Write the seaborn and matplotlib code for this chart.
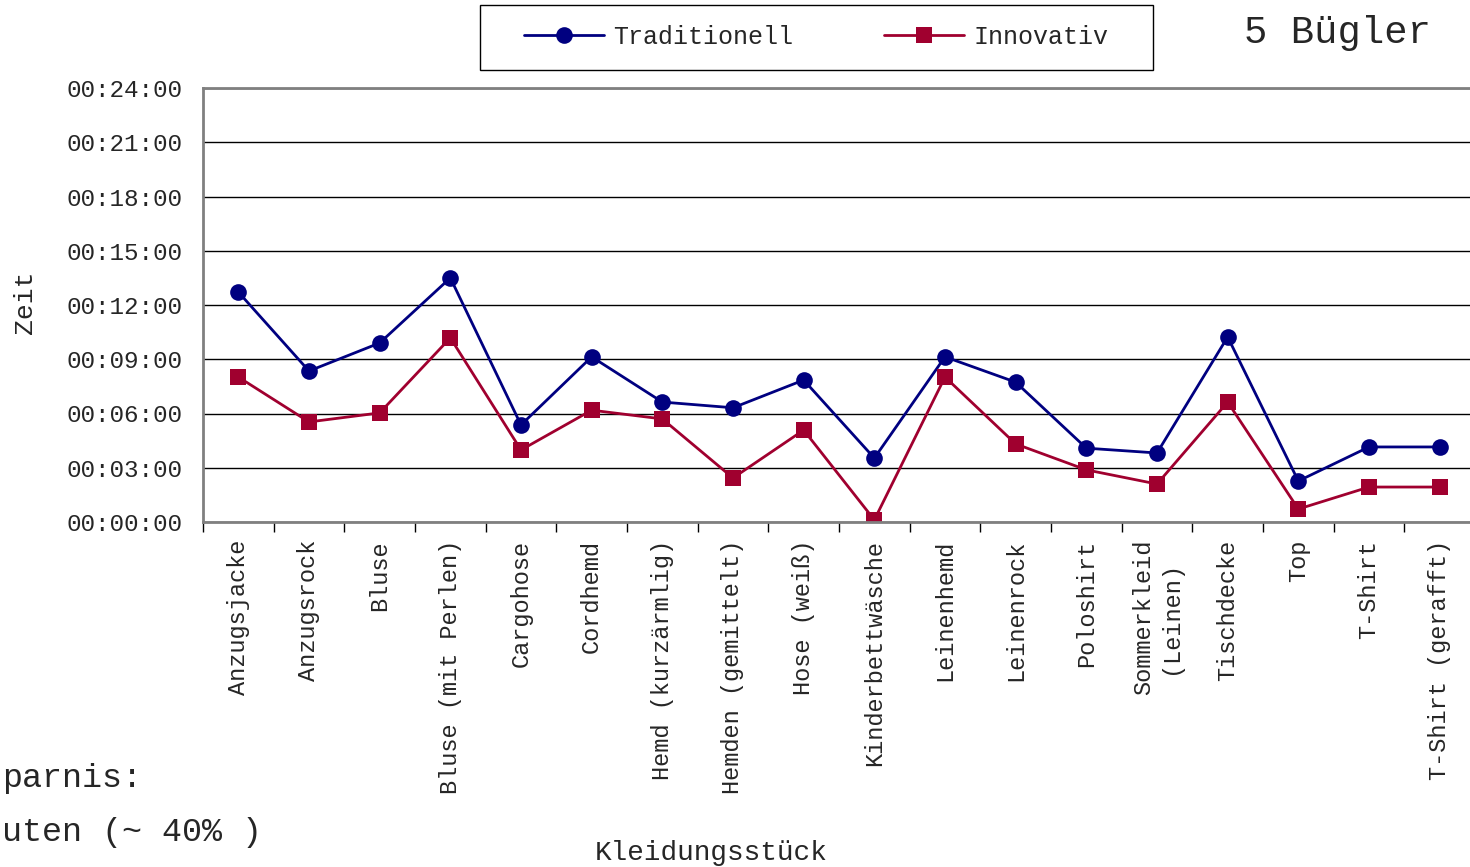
import pandas as pd
import matplotlib
matplotlib.use("Agg")
import matplotlib.pyplot as plt
import seaborn as sns
from matplotlib.ticker import FuncFormatter, FixedLocator, MultipleLocator
from matplotlib.patches import Rectangle

# ==========================================
# DATA (times in seconds)
# ==========================================
KLEIDUNG = [
    'Anzugsjacke', 'Anzugsrock', 'Bluse', 'Bluse (mit Perlen)', 'Cargohose',
    'Cordhemd', 'Hemd (kurzärmlig)', 'Hemden (gemittelt)', 'Hose (weiß)',
    'Kinderbettwäsche', 'Leinenhemd', 'Leinenrock', 'Poloshirt',
    'Sommerkleid\n(Leinen)', 'Tischdecke', 'Top', 'T-Shirt', 'T-Shirt (gerafft)'
]
TRADITIONELL = [763, 501, 594, 810, 322, 548, 398, 379, 471,
                212, 548, 464, 245, 229, 614, 136, 249, 249]
INNOVATIV = [481, 332, 362, 611, 239, 371, 342, 146, 305,
             7, 481, 259, 173, 126, 398, 43, 116, 116]
Y_TICKS = list(range(0, 24 * 60 + 1, 180))

NAVY = '#000080'
CRIMSON = '#A0002F'
MONO = ['Liberation Mono', 'DejaVu Sans Mono']

sns.set_style('white')
plt.rcParams['font.family'] = MONO


def fmt_time(s, pos=None):
    s = int(round(s))
    return f"{s // 3600:02d}:{(s % 3600) // 60:02d}:{s % 60:02d}"


df = pd.DataFrame({
    'Kleidungsstück': KLEIDUNG * 2,
    'Zeit': TRADITIONELL + INNOVATIV,
    'Verfahren': ['Traditionell'] * len(KLEIDUNG) + ['Innovativ'] * len(KLEIDUNG),
})

fig = plt.figure(figsize=(14.7, 8.67), dpi=100)
ax = fig.add_axes([203 / 1470, 345 / 867, 1272 / 1470, 434 / 867])

sns.lineplot(
    data=df, x='Kleidungsstück', y='Zeit', hue='Verfahren', style='Verfahren',
    palette={'Traditionell': NAVY, 'Innovativ': CRIMSON},
    markers={'Traditionell': 'o', 'Innovativ': 's'}, dashes=False,
    markersize=12, markeredgewidth=0, linewidth=2.0, sort=False, ax=ax,
)

handles, labels = ax.get_legend_handles_labels()
ax.get_legend().remove()

# axes limits / ticks
ax.set_xlim(-0.5, len(KLEIDUNG) - 0.5)
ax.set_ylim(0, 24 * 60)
ax.yaxis.set_major_locator(FixedLocator(Y_TICKS))
ax.yaxis.set_major_formatter(FuncFormatter(fmt_time))
ax.xaxis.set_minor_locator(MultipleLocator(1, offset=0.5))
ax.tick_params(axis='y', which='major', direction='out', length=7, width=1,
               color='black', pad=8, labelsize=17.5)
ax.tick_params(axis='x', which='major', length=0, pad=13, labelsize=17)
ax.tick_params(axis='x', which='minor', direction='out', length=7, width=1,
               color='black', bottom=True)
for lab in ax.get_xticklabels():
    lab.set_rotation(90)
    lab.set_va('top')
    lab.set_ha('center')
    lab.set_multialignment('center')

ax.grid(axis='y', color='black', linewidth=1)
ax.grid(axis='x', visible=False)
ax.set_axisbelow(True)
for side in ['left', 'bottom', 'top']:
    ax.spines[side].set_color('#808080')
    ax.spines[side].set_linewidth(2)
ax.spines['right'].set_visible(False)

ax.set_xlabel('Kleidungsstück', fontsize=20)
ax.xaxis.set_label_coords(0.3994, -0.733)
ax.set_ylabel('')
fig.text(25 / 1470, 1 - 302 / 867, 'Zeit', fontsize=19, rotation=90,
         ha='center', va='center')

# legend with separate frame
fig.legend(handles, labels, loc='center', bbox_to_anchor=(816 / 1470, 1 - 37 / 867),
           ncol=2, frameon=False, fontsize=18, handlelength=3.2,
           handletextpad=0.4, columnspacing=3.6)
fig.patches.append(Rectangle((480 / 1470, 1 - 70 / 867), 673 / 1470, 65 / 867,
                             transform=fig.transFigure, fill=False,
                             edgecolor='black', linewidth=1))

fig.text(1338 / 1470, 1 - 33 / 867, '5 Bügler', fontsize=28, ha='center', va='center')

# savings note (only the part visible in the original, which is cut at the left edge)
fig.text(2 / 1470, 1 - 778 / 867, 'parnis:', fontsize=24, ha='left', va='center')
fig.text(2 / 1470, 1 - 833 / 867, 'uten (~ 40% )', fontsize=24, ha='left', va='center')

fig.savefig('out.png', dpi=100)
